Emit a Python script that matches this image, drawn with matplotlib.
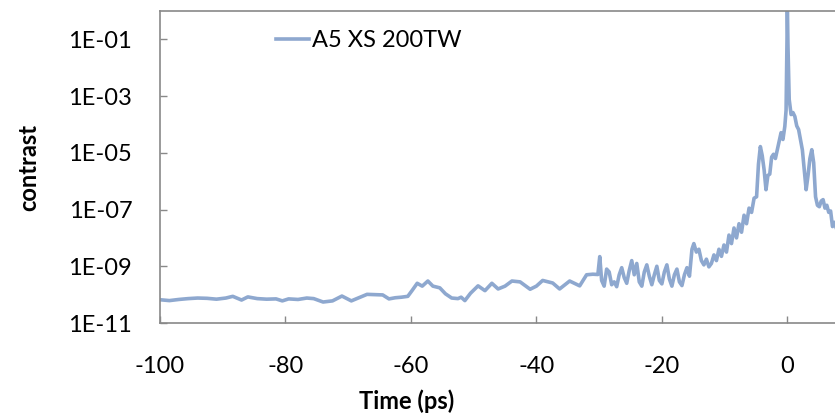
import numpy as np
import matplotlib
matplotlib.use("Agg")
import matplotlib.pyplot as plt
from matplotlib.ticker import FixedLocator, FixedFormatter

# ---- data (time in ps; contrast given as log10 values) ----
time_ps = [
    -100, -98.5, -97, -95.5, -94, -92.5, -91, -89.5, -88.4, -87,
    -86, -84.5, -83, -81.5, -80.5, -79.5, -78, -76.6, -75.5, -74,
    -72.5, -71, -69.5, -68, -67, -65.5, -64.5, -63.5, -62.5, -61.5,
    -60.5,
    -59.8, -59, -58.2, -57.3, -56.5, -55.4, -54.5, -53.5, -52.5, -52,
    -51.4, -50.5, -49.3, -48.2, -47.1, -46.1, -45, -43.9, -42.6, -41.8,
    -41, -40, -39, -37.4, -36.3, -34.7, -33.1, -32, -31, -30.2,
    -29.9, -29.6, -29.2, -28.8, -28.4, -28.0, -27.6, -27.2, -26.8, -26.4, -26.0, -25.6,
    -25.2, -24.8, -24.4, -24.0, -23.6, -23.2, -22.8, -22.4, -22.0, -21.6, -21.2, -20.8,
    -20.4, -20.0, -19.6, -19.2, -18.8, -18.4, -18.0, -17.6, -17.2, -16.8, -16.4, -16.0,
    -15.6, -15.2, -14.9, -14.5, -14.1, -13.7, -13.3, -12.9, -12.5, -12.1, -11.7, -11.3,
    -10.9, -10.5, -10.1, -9.7, -9.3, -8.9, -8.5, -8.1, -7.7, -7.3, -6.9, -6.5, -6.1,
    -5.7, -5.3, -4.9, -4.6, -4.3, -4.0, -3.7, -3.4, -3.1, -2.8, -2.5, -2.2, -1.9, -1.6,
    -1.3, -1.0, -0.7, -0.4, -0.2, -0.05, 0.0, 0.1, 0.3, 0.6, 0.9, 1.2, 1.5, 1.8, 2.1,
    2.4, 2.7, 3.0, 3.3, 3.6, 3.9, 4.2, 4.5, 4.8, 5.1, 5.4, 5.7, 6.0, 6.3, 6.6, 6.9,
    7.2, 7.5, 7.8,
]
log_contrast = [
    -10.18, -10.21, -10.17, -10.14, -10.12, -10.13, -10.16, -10.12, -10.06, -10.19,
    -10.08, -10.14, -10.16, -10.15, -10.22, -10.15, -10.17, -10.12, -10.14, -10.26,
    -10.22, -10.05, -10.22, -10.08, -9.99, -10.00, -10.01, -10.15, -10.11, -10.09,
    -10.06,
    -9.85, -9.60, -9.70, -9.52, -9.70, -9.76, -9.97, -10.12, -10.14, -10.09,
    -10.21, -9.95, -9.69, -9.86, -9.60, -9.80, -9.70, -9.52, -9.55, -9.68,
    -9.81, -9.70, -9.50, -9.59, -9.80, -9.52, -9.69, -9.30, -9.28, -9.29,
    -8.66, -9.50, -9.70, -9.10, -9.20, -9.65, -9.55, -9.72, -9.30, -9.05, -9.40, -9.60,
    -9.15, -8.80, -9.30, -8.90, -9.55, -9.70, -9.20, -8.95, -9.35, -9.65, -9.30, -9.00,
    -9.50, -9.62, -9.20, -8.95, -9.45, -9.70, -9.30, -9.10, -9.55, -9.68, -9.30, -9.05,
    -9.35, -8.40, -8.20, -8.50, -8.40, -8.80, -8.95, -8.75, -9.02, -8.90, -8.60, -8.80,
    -8.40, -8.65, -8.25, -8.50, -7.90, -8.20, -7.65, -8.00, -7.50, -7.80, -7.20, -7.50, -6.95,
    -7.10, -6.60, -6.55, -5.40, -4.78, -5.10, -5.60, -6.30, -5.80, -5.75, -5.15, -5.05, -5.20, -4.90,
    -4.60, -4.29, -4.53, -4.07, -3.50, -1.00, 0.30, -1.20, -3.12, -3.65, -3.58, -3.72, -4.05, -4.18, -4.53,
    -4.90, -5.60, -6.30, -5.80, -5.20, -4.89, -5.35, -6.55, -6.85, -6.90, -6.70, -6.65, -6.95, -6.85, -7.10, -7.05,
    -7.60, -7.45, -7.65,
]

series_name = "A5 XS 200TW"
x_ticks = [-100, -80, -60, -40, -20, 0]
y_tick_values = [1e-11, 1e-9, 1e-7, 1e-5, 1e-3, 1e-1]
y_tick_labels = ["1E-11", "1E-09", "1E-07", "1E-05", "1E-03", "1E-01"]

# ---- figure ----
plt.rcParams["font.family"] = ["Lato", "DejaVu Sans"]
plt.rcParams["axes.unicode_minus"] = False
fig = plt.figure(figsize=(8.35, 4.17), dpi=100)
ax = fig.add_axes([160 / 835, 94 / 417, 675 / 835, 312 / 417])

contrast = np.power(10.0, np.array(log_contrast))
ax.plot(time_ps, contrast, color="#8EA8CF", lw=2.6, label=series_name,
        solid_joinstyle="round")

ax.set_yscale("log")
ax.set_xlim(-100, 7.6)
ax.set_ylim(1e-11, 1.0)

ax.xaxis.set_major_locator(FixedLocator(x_ticks))
ax.xaxis.set_minor_locator(FixedLocator([]))
ax.yaxis.set_major_locator(FixedLocator(y_tick_values))
ax.yaxis.set_major_formatter(FixedFormatter(y_tick_labels))
ax.yaxis.set_minor_locator(FixedLocator([]))

spine_col = "#898989"
for s in ["left", "bottom", "top"]:
    ax.spines[s].set_color(spine_col)
    ax.spines[s].set_linewidth(1.2)
ax.spines["right"].set_visible(False)

ax.tick_params(axis="both", direction="in", length=5, width=1.0, color=spine_col,
               labelsize=17, labelcolor="black")
ax.tick_params(axis="x", pad=24)
ax.tick_params(axis="y", pad=20)

ax.set_xlabel("Time (ps)", fontsize=17, fontweight="bold")
ax.set_ylabel("contrast", fontsize=17, fontweight="bold")
ax.xaxis.set_label_coords(0.366, -0.212)
ax.yaxis.set_label_coords(-0.178, 0.497)

leg = ax.legend(loc="center left", bbox_to_anchor=(0.172, 0.905), frameon=False,
                fontsize=17, handlelength=1.4, handletextpad=0.1,
                borderpad=0, borderaxespad=0)

fig.savefig("out.png", dpi=100)
